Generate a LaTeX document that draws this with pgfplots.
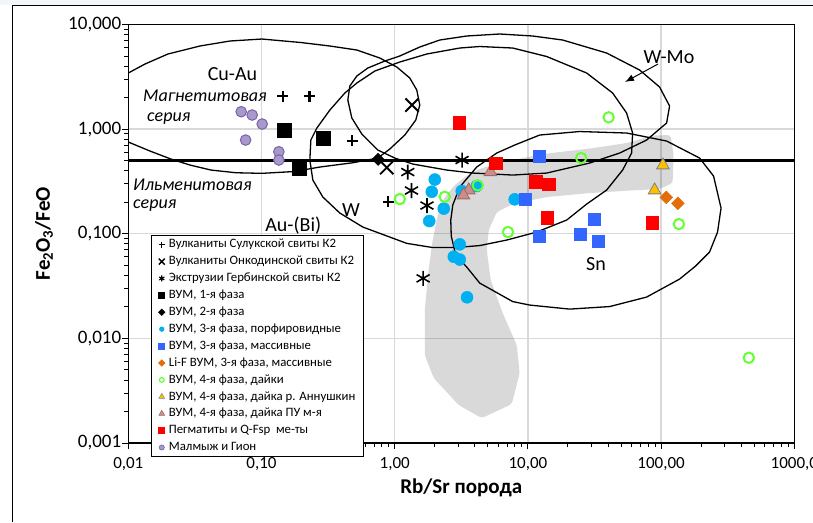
\documentclass[border=0pt]{standalone}
\usepackage{fontspec}
\setmainfont{Carlito}
\usepackage{pgfplots}
\pgfplotsset{compat=1.18}
\usetikzlibrary{arrows.meta}
\definecolor{cyanc}{HTML}{00B0F0}
\definecolor{blueq}{HTML}{3366FF}
\definecolor{orangeq}{HTML}{E46C0A}
\definecolor{greenq}{HTML}{66FF33}
\definecolor{goldq}{HTML}{FFC000}
\definecolor{rosyq}{HTML}{C98E8B}
\definecolor{rosyd}{HTML}{A06A67}
\definecolor{purf}{HTML}{A898CC}
\definecolor{purd}{HTML}{7A64A6}
\definecolor{gridc}{HTML}{D9D9D9}
\definecolor{topbg}{HTML}{F2F6FA}
\begin{document}
\begin{tikzpicture}
\fill[topbg] (0pt,0pt) rectangle (813pt,-5pt);
\path[use as bounding box] (0pt,0pt) rectangle (813pt,-522pt);
\draw[black, line width=1.3pt] (12.3pt,-522pt) -- (12.3pt,-5.5pt) -- (813pt,-5.5pt);
\begin{axis}[
 at={(128.3pt,-443pt)}, anchor=south west,
 scale only axis, width=666pt, height=418.5pt,
 xmode=log, ymode=log,
 xmin=0.01, xmax=1000, ymin=0.001, ymax=10,
 xtick={0.01,0.1,1,10,100,1000},
 xticklabels={{0,01},{0,10},{1,00},{10,00},{100,00},{1000,0}},
 ytick={0.001,0.01,0.1,1,10},
 yticklabels={{0,001},{0,010},{0,100},{1,000},{10,000}},
 minor xtick={0.02,0.03,0.04,0.05,0.06,0.07,0.08,0.09,0.2,0.3,0.4,0.5,0.6,0.7,0.8,0.9,2,3,4,5,6,7,8,9,20,30,40,50,60,70,80,90,200,300,400,500,600,700,800,900},
 minor ytick={0.002,0.003,0.004,0.005,0.006,0.007,0.008,0.009,0.02,0.03,0.04,0.05,0.06,0.07,0.08,0.09,0.2,0.3,0.4,0.5,0.6,0.7,0.8,0.9,2,3,4,5,6,7,8,9},
 tick pos=left, tick align=outside,
 major tick length=6pt, minor tick length=4pt,
 every tick/.style={black, line width=1pt},
 xmajorgrids, ymajorgrids, major grid style={gridc, line width=1.3pt},
 axis line style={black, line width=1.2pt},
 xticklabel style={font=\fontsize{17}{19}\selectfont, yshift=-5pt},
 yticklabel style={font=\fontsize{19}{21}\selectfont, inner xsep=1pt},
 legend style={at={(0.0345,0.4970)}, anchor=north west, draw=black, line width=0.8pt, fill=white,
   font=\fontsize{12.8}{15}\selectfont, inner xsep=7pt, inner ysep=0.8pt, row sep=0pt,
   nodes={inner xsep=1.5pt, inner ysep=2pt, text height=9.7pt, text depth=3.2pt},
   /tikz/every odd column/.append style={column sep=2.5pt}},
 legend cell align=left,
 legend image code/.code={\draw[#1] plot coordinates {(0pt,0pt)};},
]
% contours
\addplot[forget plot, black, line width=1.3pt, line join=round, mark=none] coordinates {
(0.01,0.7529) (0.01455,0.6175) (0.02091,0.5177) (0.02903,0.4538) (0.04173,0.4064) (0.06427,0.3830) (0.1007,0.3780) (0.1750,0.3932) (0.2742,0.4343) (0.4850,0.4773) (0.7468,0.5292) (0.9188,0.6454) (1.191,0.8781) (1.440,1.222) (1.543,1.700) (1.465,2.365) (1.298,3.080) (1.037,3.923) (0.7731,4.783) (0.5196,5.705) (0.3260,6.230) (0.1975,6.728) (0.1007,7.266) (0.05793,6.955) (0.03451,6.230) (0.01985,5.224) (0.01335,4.192) (0.01,3.438)};
\addplot[forget plot, black, line width=1.3pt, line join=round, mark=none] coordinates {
(0.4448,1.897) (0.4604,2.582) (0.5196,3.218) (0.6283,3.838) (0.8428,4.478) (1.092,5.0) (1.543,6.094) (2.179,7.108) (3.474,7.765) (6.144,8.115) (10.86,7.765) (18.24,7.108) (39.01,5.338) (68.98,3.673) (97.43,2.526) (115.8,1.663) (110.0,1.144) (77.85,0.7866) (48.83,0.5908) (29.08,0.4741) (13.84,0.3804) (7.691,0.3640) (3.854,0.3804) (2.459,0.4064) (1.367,0.4637) (1.002,0.5292) (0.7468,0.6313) (0.5665,0.8979) (0.4766,1.277)} -- cycle;
\addplot[forget plot, black, line width=1.3pt, line join=round, mark=none] coordinates {
(0.2307,0.5067) (0.2347,0.7866) (0.2604,1.024) (0.3260,1.522) (0.4224,2.214) (0.5196,2.758) (0.7090,3.593) (1.092,4.379) (1.741,5.224) (3.079,5.960) (4.348,6.162) (7.691,5.960) (13.84,4.944) (27.61,3.438) (43.27,2.214) (55.11,1.425) (61.12,0.9178) (60.07,0.5908) (51.43,0.4064) (39.01,0.2617) (27.61,0.1922) (19.55,0.1352) (11.64,0.1038) (6.934,0.08706) (4.348,0.07713) (2.873,0.07381) (1.931,0.07381) (1.232,0.08094) (0.9188,0.09298) (0.5764,0.1159) (0.3874,0.1577) (0.2888,0.2243) (0.2429,0.3262)} -- cycle;
\addplot[forget plot, black, line width=1.3pt, line join=round, mark=none] coordinates {
(12.26,0.8781) (24.46,0.9487) (55.11,0.9178) (110.0,0.7695) (194.5,0.5292) (247.6,0.3561) (281.9,0.1761) (265.3,0.1038) (231.1,0.06683) (181.5,0.04911) (137.6,0.03688) (77.85,0.02482) (41.09,0.02014) (20.58,0.01905) (10.31,0.02082) (7.691,0.02248) (4.348,0.03378) (3.474,0.04804) (2.873,0.06257) (2.658,0.09506) (2.636,0.1352) (2.729,0.1881) (3.079,0.2796) (4.129,0.4343) (5.834,0.5908) (7.962,0.7047)} -- cycle;
\addplot[forget plot, black, line width=2.5pt, mark=none] coordinates {(0.01,0.5) (1000,0.5)};
% data
\addplot[forget plot, only marks, mark=+, mark size=5.5pt, mark options={black, line width=2.3pt}] coordinates {(0.1447,2.072) (0.2295,2.072) (0.479,0.7746) (0.892,0.2022)};
\addplot[forget plot, only marks, mark=x, mark size=9.4pt, mark options={black, line width=1.9pt}] coordinates {(1.350,1.700) (0.8724,0.4294)};
\addplot[forget plot, only marks, mark=asterisk, mark size=7.5pt, mark options={black, line width=1.6pt}] coordinates {(3.204,0.5067) (1.254,0.389) (1.337,0.2588) (1.747,0.1861) (1.634,0.0375)};
\addplot[forget plot, only marks, mark=square*, mark size=7pt, mark options={draw=black, fill=black}] coordinates {(0.1472,0.980) (0.2888,0.817) (0.1931,0.4218)};
\addplot[forget plot, only marks, mark=square*, mark size=4.35pt, mark options={draw=black, fill=black, rotate=45}] coordinates {(0.7506,0.5145)};
\addplot[forget plot, only marks, mark=*, mark size=6pt, mark options={draw=cyanc, fill=cyanc, line width=0.5pt}] coordinates {(2.000,0.3297) (1.898,0.2521) (2.335,0.1741) (1.818,0.1323) (3.186,0.2560) (4.129,0.2858) (3.079,0.0792) (2.776,0.0603) (3.079,0.0567) (3.492,0.0247) (7.962,0.2133)};
\addplot[forget plot, only marks, mark=square*, mark size=6pt, mark options={draw=blueq, fill=blueq, line width=0.5pt}] coordinates {(12.26,0.5446) (9.627,0.2133) (12.11,0.0951) (31.70,0.1373) (24.89,0.0993) (33.56,0.0857)};
\addplot[forget plot, only marks, mark=square*, mark size=4.5pt, mark options={draw=orangeq, fill=orangeq, rotate=45, line width=0.5pt}] coordinates {(109.4,0.2228) (133.7,0.1953)};
\addplot[forget plot, only marks, mark=o, mark size=5.2pt, mark options={draw=greenq, line width=2pt}] coordinates {(1.092,0.2147) (2.375,0.2258) (4.201,0.2901) (7.09,0.1038) (25.10,0.5295) (40.38,1.297) (136.0,0.1238) (455.7,0.00653)};
\addplot[forget plot, only marks, mark=triangle*, mark size=7.3pt, mark options={draw=gray, fill=goldq, line width=0.8pt}] coordinates {(103.2,0.4518) (89.4,0.2606)};
\addplot[forget plot, only marks, mark=triangle*, mark size=7.3pt, mark options={draw=rosyd, fill=rosyq, line width=0.8pt}] coordinates {(5.233,0.3897) (3.595,0.2606) (3.282,0.2334)};
\addplot[forget plot, only marks, mark=square*, mark size=6.3pt, mark options={draw=red, fill=red, line width=0.5pt}] coordinates {(3.042,1.144) (5.732,0.471) (11.44,0.3142) (14.40,0.2986) (14.00,0.1429) (85.9,0.1279)};
\addplot[forget plot, only marks, mark=*, mark size=5.3pt, mark options={draw=purd, fill=purf, line width=1pt}] coordinates {(0.0704,1.467) (0.0851,1.364) (0.1012,1.119) (0.0760,0.7866) (0.1350,0.6079) (0.1350,0.5067)};
% grey field (overlay)
\addplot[forget plot, draw=none, fill=black, fill opacity=0.15, rounded corners=3pt, mark=none] coordinates {
(2.105,0.1509) (2.375,0.2243) (2.824,0.2922) (3.535,0.3640) (4.503,0.4247) (7.691,0.5067) (13.84,0.5843) (29.08,0.6524) (55.11,0.7364) (86.35,0.8685) (117.8,0.8781) (124.1,0.5654) (122.0,0.3052) (97.43,0.2675) (58.03,0.2588) (29.08,0.2449) (13.84,0.2243) (7.691,0.1922) (5.834,0.1613) (5.081,0.1085) (4.909,0.06985) (5.260,0.03609) (6.471,0.01745) (8.241,0.008628) (8.679,0.004659) (7.559,0.002354) (4.503,0.001730) (3.026,0.002303) (1.965,0.004173) (1.682,0.006923) (1.682,0.01865) (1.802,0.04700) (1.931,0.08706)} -- cycle;
% legend
\addlegendimage{only marks, mark=+, mark size=3pt, mark options={black, line width=1.4pt}}
\addlegendentry{Вулканиты Сулукской свиты К2}
\addlegendimage{only marks, mark=x, mark size=4.2pt, mark options={black, line width=1.4pt}}
\addlegendentry{Вулканиты Онкодинской свиты К2}
\addlegendimage{only marks, mark=asterisk, mark size=3pt, mark options={black, line width=1.1pt}}
\addlegendentry{Экструзии Гербинской свиты К2}
\addlegendimage{only marks, mark=square*, mark size=3pt, mark options={draw=black, fill=black}}
\addlegendentry{ВУМ, 1-я фаза}
\addlegendimage{only marks, mark=square*, mark size=2.2pt, mark options={draw=black, fill=black, rotate=45}}
\addlegendentry{ВУМ, 2-я фаза}
\addlegendimage{only marks, mark=*, mark size=2.2pt, mark options={draw=cyanc, fill=cyanc}}
\addlegendentry{ВУМ, 3-я фаза, порфировидные}
\addlegendimage{only marks, mark=square*, mark size=3pt, mark options={draw=blueq, fill=blueq}}
\addlegendentry{ВУМ, 3-я фаза, массивные}
\addlegendimage{only marks, mark=square*, mark size=2.2pt, mark options={draw=orangeq, fill=orangeq, rotate=45}}
\addlegendentry{Li-F ВУМ, 3-я фаза, массивные}
\addlegendimage{only marks, mark=o, mark size=2.4pt, mark options={draw=greenq, line width=1.2pt}}
\addlegendentry{ВУМ, 4-я фаза, дайки}
\addlegendimage{only marks, mark=triangle*, mark size=3.4pt, mark options={draw=gray, fill=goldq, line width=0.5pt}}
\addlegendentry{ВУМ, 4-я фаза, дайка р. Аннушкин}
\addlegendimage{only marks, mark=triangle*, mark size=3.4pt, mark options={draw=rosyd, fill=rosyq, line width=0.5pt}}
\addlegendentry{ВУМ, 4-я фаза, дайка ПУ м-я}
\addlegendimage{only marks, mark=square*, mark size=3pt, mark options={draw=red, fill=red}}
\addlegendentry{Пегматиты и Q-Fsp\ \ ме-ты}
\addlegendimage{only marks, mark=*, mark size=2.6pt, mark options={draw=purd, fill=purf, line width=0.6pt}}
\addlegendentry{Малмыж и Гион}
\end{axis}
% labels
\node[rotate=90, font=\fontsize{21}{24}\selectfont\bfseries] at (44pt,-233.7pt) {Fe\textsubscript{2}O\textsubscript{3}/FeO};
\node[anchor=base, font=\fontsize{21}{24}\selectfont\bfseries, inner sep=0pt] at (461.3pt,-493.3pt) {Rb/Sr порода};
\node[anchor=base, font=\fontsize{20}{24}\selectfont, inner sep=0pt] at (232.5pt,-80pt) {Cu-Au};
\node[anchor=base west, font=\fontsize{18}{22}\selectfont\itshape, inner sep=0pt] at (143pt,-101.7pt) {Магнетитовая};
\node[anchor=base west, font=\fontsize{18}{22}\selectfont\itshape, inner sep=0pt] at (147pt,-121.7pt) {серия};
\node[anchor=base west, font=\fontsize{18}{22}\selectfont\itshape, inner sep=0pt] at (133pt,-190pt) {Ильменитовая};
\node[anchor=base west, font=\fontsize{18}{22}\selectfont\itshape, inner sep=0pt] at (133pt,-208.3pt) {серия};
\node[anchor=base, font=\fontsize{20}{24}\selectfont, inner sep=0pt] at (293.3pt,-231pt) {Au-(Bi)};
\node[anchor=base, font=\fontsize{20}{24}\selectfont, inner sep=0pt] at (351pt,-216pt) {W};
\node[anchor=base, font=\fontsize{20}{24}\selectfont, inner sep=0pt] at (596pt,-270.7pt) {Sn};
\node[anchor=base, font=\fontsize{20}{24}\selectfont, inner sep=0pt] at (669pt,-63.3pt) {W-Mo};
\draw[-{Latex[length=9pt,width=7pt]}, line width=1pt] (658pt,-64pt) -- (625pt,-82pt);
\end{tikzpicture}
\end{document}
